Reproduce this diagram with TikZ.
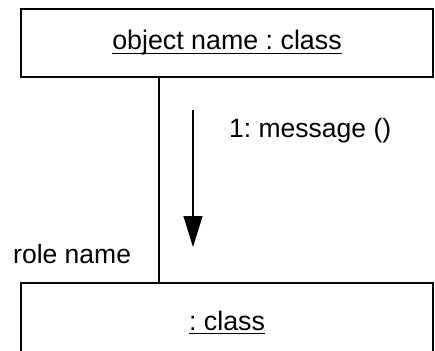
\documentclass[tikz,border=0pt]{standalone}
\usepackage{fontspec}
\setmainfont{Liberation Sans}
\usetikzlibrary{arrows.meta}
\frenchspacing
\begin{document}
\begin{tikzpicture}[x=1pt,y=1pt,
  objbox/.style={draw=black,line width=2pt,minimum width=412pt,inner sep=0pt,fill=none},
  lbl/.style={inner sep=0pt,anchor=base west,font=\fontsize{26.5}{30}\selectfont\frenchspacing},
  ctr/.style={inner sep=0pt,anchor=base,font=\fontsize{26.8}{30}\selectfont\frenchspacing},
  uline/.style={line width=1.3pt}]
\useasboundingbox (0,0) rectangle (435,-350);
\begin{scope}
\clip (0,0) rectangle (435,-350);
\node[objbox,minimum height=68pt] (top) at (227,-43) {};
\node[objbox,minimum height=78pt] (bot) at (227,-322) {};
\node[ctr] (toptxt) at (227,-50) {object name : class};
\node[ctr] (bottxt) at (227,-330) {: class};
\draw[uline] ([yshift=-3.5pt]toptxt.base west) -- ([yshift=-3.5pt]toptxt.base east);
\draw[uline] ([yshift=-3.5pt]bottxt.base west) -- ([yshift=-3.5pt]bottxt.base east);
\coordinate (lx) at (159,0);
\draw[line width=2pt] (top.south -| lx) -- (bot.north -| lx);
\coordinate (a1) at (193,-110);
\coordinate (a2) at (193,-247);
\draw[line width=1.2pt,-{Triangle[length=31pt,width=19pt]}] (a1) -- (a2);
\node[lbl] (msg) at (229,-137) {1: message ()};
\node[lbl] (role) at (13,-263) {role name};
\end{scope}
\end{tikzpicture}
\end{document}
